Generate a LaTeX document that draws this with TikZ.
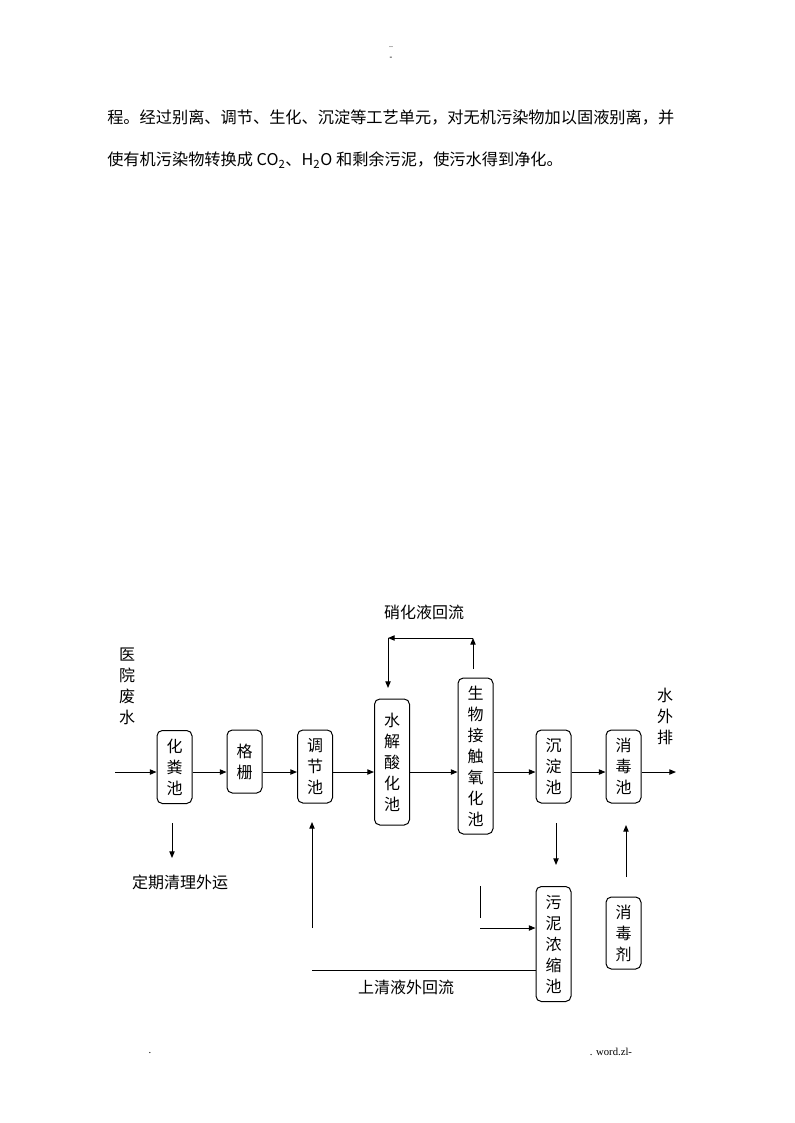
\documentclass[tikz,border=0pt]{standalone}
\usepackage{fontspec}
\setmainfont{Noto Sans CJK SC}
\newfontfamily\cjk{Noto Sans CJK SC}
\newfontfamily\serf{Liberation Serif}
\usetikzlibrary{arrows.meta}
\begin{document}
\begin{tikzpicture}[x=0.75pt,y=-0.75pt,
  every node/.style={inner sep=0pt},
  box/.style={draw, line width=0.75pt, rounded corners=4pt, minimum width=26.25pt, align=center,
    font=\cjk\fontsize{12pt}{15.75pt}\selectfont},
  lbl/.style={align=center, font=\cjk\fontsize{12pt}{15.75pt}\selectfont},
  body/.style={anchor=west, font=\cjk\fontsize{12.15pt}{15pt}\selectfont},
  flow/.style={line width=0.75pt, -{Triangle[length=5pt,width=4pt]}},
  plain/.style={line width=0.75pt},
  tiny/.style={font=\serf\fontsize{6pt}{7pt}\selectfont},
  foot/.style={font=\serf\fontsize{8pt}{9pt}\selectfont}]
\useasboundingbox[fill=white] (0,0) rectangle (794,1123);

% header and body text
\node[tiny] (h1) at (391,47) {..};
\node[tiny] (h2) at (391,58) {\textbf{-}};
\node[body] (t1) at (107,118) {程。经过别离、调节、生化、沉淀等工艺单元，对无机污染物加以固液别离，并};
\node[body] (t2) at (107,160) {使有机污染物转换成 CO\textsubscript{2}、H\textsubscript{2}O 和剩余污泥，使污水得到净化。};

% boxes
\node[box, minimum height=54.75pt] (hf) at (174.5,767) {化\\粪\\池};
\node[box, minimum height=47.25pt] (gs) at (244.5,761.5) {格\\栅};
\node[box, minimum height=54.75pt] (tj) at (315,766.5) {调\\节\\池};
\node[box, minimum height=94.5pt] (sj) at (392,762) {水\\解\\酸\\化\\池};
\node[box, minimum height=117pt] (sw) at (475.5,756) {生\\物\\接\\触\\氧\\化\\池};
\node[box, minimum height=54.75pt] (cd) at (553.5,766.5) {沉\\淀\\池};
\node[box, minimum height=54.75pt] (xd) at (623.5,766.5) {消\\毒\\池};
\node[box, minimum height=86.25pt] (ns) at (553.5,944) {污\\泥\\浓\\缩\\池};
\node[box, minimum height=54pt] (xdj) at (623.5,933) {消\\毒\\剂};

% labels
\node[lbl] (ly) at (127,686) {医\\院\\废\\水};
\node[lbl] (lw) at (665,716) {水\\外\\排};
\node[lbl] (lx) at (424,612) {硝化液回流};
\node[lbl] (ld) at (180,882) {定期清理外运};
\node[lbl] (ls) at (406,987) {上清液外回流};

% main line
\coordinate (m) at (0,772);
\coordinate (in) at (115,772);
\coordinate (out) at (676,772);
\draw[flow] (in) -- (hf.west |- m);
\draw[flow] (hf.east |- m) -- (gs.west |- m);
\draw[flow] (gs.east |- m) -- (tj.west |- m);
\draw[flow] (tj.east |- m) -- (sj.west |- m);
\draw[flow] (sj.east |- m) -- (sw.west |- m);
\draw[flow] (sw.east |- m) -- (cd.west |- m);
\draw[flow] (cd.east |- m) -- (xd.west |- m);
\draw[flow] (xd.east |- m) -- (out);

% nitrified liquid recycle
\coordinate (r1) at (473,669);
\coordinate (r2) at (473,638);
\coordinate (r3) at (388,638);
\coordinate (r4) at (388,688);
\draw[flow] (r1) -- (r2);
\draw[flow] (r2) -- (r3);
\draw[flow] (r3) -- (r4);

% septic tank removal
\coordinate (d1) at (172,823);
\coordinate (d2) at (172,858);
\draw[flow] (d1) -- (d2);

% supernatant return
\coordinate (u1) at (312,928);
\coordinate (u2) at (312,822);
\draw[flow] (u1) -- (u2);
\coordinate (u3) at (312,970);
\draw[plain] (u3) -- (ns.west |- u3);

% sludge
\coordinate (s1) at (556,823);
\coordinate (s2) at (556,865);
\draw[flow] (s1) -- (s2);
\coordinate (b1) at (480,886);
\coordinate (b2) at (480,918);
\draw[plain] (b1) -- (b2);
\coordinate (b3) at (480,928);
\draw[flow] (b3) -- (ns.west |- b3);

% disinfectant
\coordinate (x1) at (626,877);
\coordinate (x2) at (626,825);
\draw[flow] (x1) -- (x2);

% footer
\node[foot] (f1) at (150,1053) {.};
\node[foot] (f2) at (611,1052) {. word.zl-};
\end{tikzpicture}
\end{document}
